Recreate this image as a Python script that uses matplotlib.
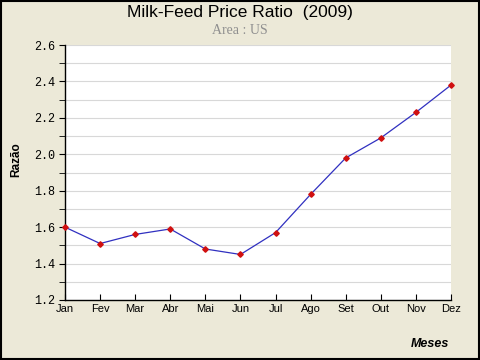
import matplotlib
matplotlib.use("Agg")
import matplotlib.pyplot as plt
from matplotlib.patches import Rectangle
import numpy as np

months = ["Jan", "Fev", "Mar", "Abr", "Mai", "Jun", "Jul", "Ago", "Set", "Out", "Nov", "Dez"]
ratio = [1.60, 1.51, 1.56, 1.59, 1.48, 1.45, 1.57, 1.78, 1.98, 2.09, 2.23, 2.38]
yticks = [1.2, 1.4, 1.6, 1.8, 2.0, 2.2, 2.4, 2.6]

bg = "#ECE9D8"
fig = plt.figure(figsize=(4.8, 3.6), dpi=100, facecolor=bg)
ax = fig.add_axes([65/480, 1 - 300/360, (451-65)/480, (300-45)/360])
ax.set_facecolor("white")

x = np.arange(len(months))
ax.plot(x, ratio, color="#3030c0", lw=0.9, marker="D", markersize=2.8,
        markerfacecolor="#d01010", markeredgecolor="#d01010", zorder=3, clip_on=False)

ax.set_xlim(0, len(months) - 1)
ax.set_ylim(1.2, 2.6)
ax.set_xticks(x)
ax.set_xticklabels(months, fontfamily="Liberation Sans", fontsize=8)
ax.set_yticks(yticks)
ax.set_yticklabels([f"{v:.1f}" for v in yticks], fontfamily="Liberation Mono", fontsize=8.5)
ax.set_yticks(np.arange(1.3, 2.6, 0.2), minor=True)
ax.grid(True, axis="y", which="both", color="#d8d8d8", lw=0.8)
ax.set_axisbelow(True)

for s in ["top", "right"]:
    ax.spines[s].set_visible(False)
for s in ["left", "bottom"]:
    ax.spines[s].set_color("black")
    ax.spines[s].set_linewidth(1)

ax.tick_params(axis="x", direction="in", length=4, pad=3, colors="black")
ax.tick_params(axis="y", which="both", direction="out", length=4, pad=3, colors="black")

fig.text(0.5, 1 - 12/360, "Milk-Feed Price Ratio  (2009)", ha="center", va="center",
         fontfamily="Liberation Sans", fontsize=12.5)
fig.text(0.5, 1 - 31/360, "Area : US", ha="center", va="center",
         fontfamily="Liberation Serif", fontsize=10, color="#909090")
fig.text(16/480, 1 - 160/360, "Razão", rotation=90, ha="center", va="center",
         fontfamily="Liberation Sans", fontsize=8.5, fontweight="bold")
fig.text(430/480, 1 - 344/360, "Meses", ha="center", va="center",
         fontfamily="Liberation Sans", fontsize=9, fontweight="bold", fontstyle="italic")

fig.patches.append(Rectangle((0.002, 0.003), 0.996, 0.994, transform=fig.transFigure,
                             fill=False, edgecolor="black", lw=1.5))

fig.savefig("out.png", dpi=100, facecolor=bg)
